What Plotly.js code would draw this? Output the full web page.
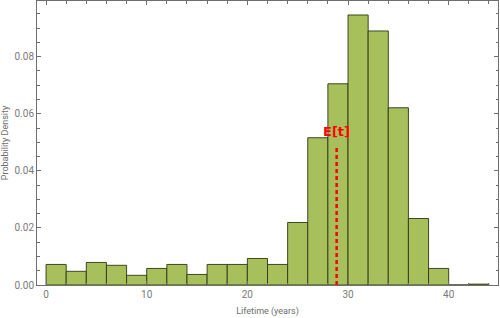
<!DOCTYPE html>
<html>
<head>
<meta charset="utf-8">
<script src="https://cdn.plot.ly/plotly-3.0.1.min.js"></script>
<style>html,body{margin:0;padding:0;background:#fff;}#chart{width:500px;height:318px;}</style>
</head>
<body>
<div id="chart"></div>
<script>
// Bin edges (years) and probability density per bin
var binStarts = [0,2,4,6,8,10,12,14,16,18,20,22,24,26,28,30,32,34,36,38,40,42];
var density = [0.0072,0.0048,0.0079,0.0069,0.0034,0.0058,0.0072,0.0037,0.0072,0.0072,0.0093,0.0072,0.0219,0.0516,0.0705,0.0946,0.0890,0.0621,0.0233,0.0058,0,0.0003];
var binWidth = 2;
var meanLifetime = 28.87;
var meanLineTop = 0.0487;
var meanLabel = "E[t]";
var xTickVals = [0,10,20,30,40];

var centers = binStarts.map(function(s){return s + binWidth/2;});

var trace = {
  type: 'bar',
  x: centers,
  y: density,
  width: binWidth,
  marker: {color: '#a7c05b', line: {color: 'rgba(45,55,20,0.9)', width: 1}},
  hoverinfo: 'skip'
};

var axisCommon = {
  showgrid: false, zeroline: false, showline: true, mirror: 'ticks',
  linecolor: '#6e6e6e', linewidth: 1,
  ticks: 'inside', ticklen: 4, tickcolor: '#6e6e6e', tickwidth: 1,
  tickfont: {family: 'Roboto, sans-serif', size: 10, color: '#7a7a7a'}
};

var layout = {
  width: 500, height: 318,
  margin: {l: 37, r: 2, t: 1, b: 33},
  paper_bgcolor: '#fff', plot_bgcolor: '#fff',
  showlegend: false,
  bargap: 0,
  xaxis: Object.assign({}, axisCommon, {
    range: [-0.9, 44.9],
    tickvals: xTickVals,
    minor: {dtick: 2, tick0: 0, ticks: 'inside', ticklen: 2.5, tickcolor: '#6e6e6e'},
    title: {text: 'Lifetime (years)', font: {family: 'Roboto, sans-serif', size: 9, color: '#6e6e6e'}, standoff: 8}
  }),
  yaxis: Object.assign({}, axisCommon, {
    range: [0, 0.0995],
    dtick: 0.02, tick0: 0,
    tickformat: '.2f',
    minor: {dtick: 0.005, tick0: 0, ticks: 'inside', ticklen: 2.5, tickcolor: '#6e6e6e'},
    title: {text: 'Probability Density', font: {family: 'Roboto, sans-serif', size: 9, color: '#6e6e6e'}, standoff: 6}
  }),
  shapes: [{
    type: 'line', xref: 'x', yref: 'y',
    x0: meanLifetime, x1: meanLifetime, y0: 0, y1: meanLineTop,
    line: {color: '#ff0000', width: 2.5, dash: '4px,3px'}
  }],
  annotations: [{
    x: meanLifetime, y: meanLineTop, xref: 'x', yref: 'y',
    text: '<b>' + meanLabel + '</b>', showarrow: false,
    yanchor: 'bottom', yshift: 6,
    font: {family: 'DejaVu Sans, sans-serif', size: 13, color: '#ff0000'},
    borderpad: 0
  }]
};

Plotly.newPlot('chart', [trace], layout, {displayModeBar: false, staticPlot: true});
</script>
</body>
</html>
